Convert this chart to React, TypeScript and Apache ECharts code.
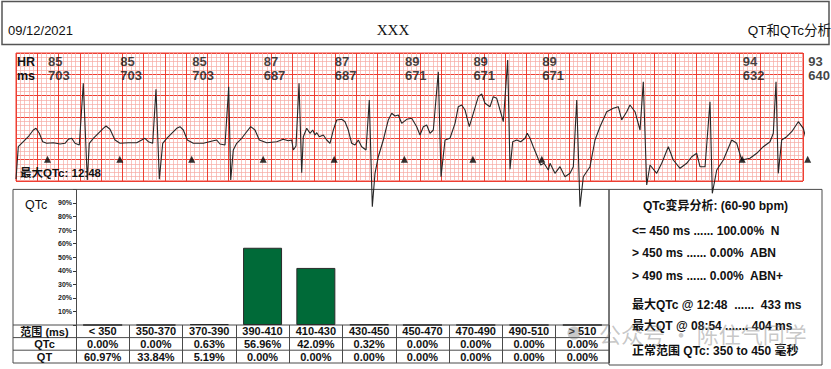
import React, { useEffect, useRef } from 'react';
import * as echarts from 'echarts';

// ---------- header ----------
const reportDate = '09/12/2021';
const patientName = 'XXX';
const reportTitle = 'QT和QTc分析';

// ---------- ECG strip (units: small boxes, time = mm @25mm/s, amplitude = mm) ----------
const ecgTime = [0, 0.54, 1.72, 2.89, 4.07, 4.70, 5.48, 6.28, 7.22, 8.77, 10.34, 11.52, 12.29, 13.09, 13.87, 14.88, 15.82, 16.76, 17.23, 18.17, 19.35, 20.52, 21.16, 22.10, 23.27, 24.45, 26.40, 28.37, 29.55, 30.32, 31.10, 32.13, 32.91, 33.69, 34.49, 35.43, 36.60, 37.78, 38.55, 39.33, 40.27, 41.68, 44.03, 46.38, 47.18, 47.95, 49.13, 50.00, 50.47, 51.08, 51.88, 53.06, 54.23, 55.17, 56.18, 57.19, 58.93, 61.28, 62.83, 64.01, 64.81, 65.19, 65.82, 66.53, 67.16, 67.54, 68.34, 69.11, 69.75, 70.29, 70.69, 71.30, 72.24, 73.04, 73.81, 74.59, 75.39, 76.56, 77.34, 78.11, 78.91, 79.69, 80.47, 81.26, 82.28, 83.05, 83.76, 84.39, 85.17, 86.34, 87.52, 88.32, 89.09, 89.87, 90.67, 91.84, 93.02, 94.19, 94.97, 95.75, 96.54, 97.32, 98.10, 99.27, 99.91, 100.85, 102.02, 103.20, 103.97, 104.77, 105.55, 106.56, 107.50, 108.68, 109.47, 110.25, 111.42, 112.20, 113.00, 113.78, 114.55, 115.58, 116.13, 116.76, 117.70, 118.64, 119.65, 120.19, 120.83, 121.60, 122.40, 123.34, 124.12, 125.13, 125.53, 126.70, 127.88, 129.05, 130.23, 131.01, 131.81, 132.58, 133.36, 134.93, 136.11, 137.28, 138.86, 140.41, 141.58, 142.38, 143.56, 144.33, 145.51, 146.69, 147.46, 148.26, 149.04, 150.61, 151.79, 153.34, 154.51, 156.09, 157.66, 158.84, 160.01, 160.79, 161.97, 163.14, 163.68, 164.72, 166.27, 168.24, 169.42, 170.59, 172.54, 174.12, 175.67, 177.25, 178.02, 178.66, 179.19, 179.99, 181.17, 182.35, 183.90, 185.07, 185.87, 187.42, 189.40];
const ecgAmp = [0.47, 8.04, 9.21, 10.38, 11.95, 12.35, 11.18, 9.21, 8.84, 8.98, 8.67, 8.84, 9.77, 10.01, 8.84, 8.44, 22.90, 0.23, 8.84, 10.01, 11.18, 12.35, 12.89, 12.12, 9.61, 8.84, 8.98, 8.98, 9.61, 10.01, 9.21, 8.84, 21.49, 0.40, 8.84, 10.01, 11.18, 12.35, 12.73, 11.95, 9.61, 8.84, 8.84, 9.44, 9.61, 8.67, 8.44, 22.10, 0.23, 7.27, 8.84, 10.01, 11.55, 12.73, 11.95, 9.61, 8.98, 9.21, 9.77, 9.44, 9.61, 7.27, 8.20, 22.90, 1.95, 10.38, 12.35, 11.18, 11.95, 10.78, 11.32, 10.38, 10.78, 9.61, 8.84, 11.95, 14.30, 14.46, 13.90, 11.95, 8.84, 8.44, 9.61, 8.04, 7.27, 18.98, -6.02, 1.80, 5.69, 9.61, 14.30, 15.87, 15.23, 15.47, 13.52, 14.46, 14.69, 12.73, 10.78, 12.73, 13.12, 11.18, 11.95, 25.62, 1.01, 9.61, 10.01, 13.52, 17.41, 17.81, 16.64, 12.73, 15.87, 19.76, 20.39, 18.21, 17.41, 19.76, 19.38, 16.64, 13.90, 28.36, 2.74, 9.21, 9.61, 9.21, 10.01, 11.18, 10.01, 8.04, 6.09, 3.75, 4.15, 2.58, 4.15, 1.80, 3.35, 1.01, 1.80, 3.35, 18.98, -6.02, 1.01, 3.35, 9.61, 12.73, 16.24, 17.04, 17.41, 14.30, 16.24, 17.81, 16.24, 11.95, 23.27, -0.94, 3.75, 1.80, 4.15, 8.04, 4.92, 2.98, 4.15, 5.69, 6.49, 3.35, 3.35, 18.58, -2.88, 2.58, 4.92, 9.61, 8.84, 4.92, 5.32, 6.49, 8.04, 9.21, 11.18, 23.27, 1.80, 9.61, 10.38, 11.55, 13.90, 12.35, 9.21, 8.98, 9.37];
const calibTime = [-0.7, -0.7];
const calibAmp = [0.23, 11.25];

const beatMarkTime = [7.4, 24.4, 41.3, 58.1, 74.8, 91.3, 107.4, 123.6, 170.7, 186.1];
const beatMarkAmp = 5.1;
const beatLabelAmp = 26.3;
const heartRates = [85, 85, 85, 87, 87, 89, 89, 89, 94, 93];
const rrIntervals = [703, 703, 703, 687, 687, 671, 671, 671, 632, 640];
const maxQtcNote = '最大QTc: 12:48';

// ---------- histogram / table ----------
const rangeCategories = ['< 350', '350-370', '370-390', '390-410', '410-430', '430-450', '450-470', '470-490', '490-510', '> 510'];
const qtcPercent = [0.0, 0.0, 0.63, 56.96, 42.09, 0.32, 0.0, 0.0, 0.0, 0.0];
const qtPercent = [60.97, 33.84, 5.19, 0.0, 0.0, 0.0, 0.0, 0.0, 0.0, 0.0];
const rowHeaders = ['范围 (ms)', 'QTc', 'QT'];

// ---------- summary panel ----------
const summaryTitle = 'QTc变异分析: (60-90 bpm)';
const summaryLines = ['<= 450 ms ...... 100.00%  N', '> 450 ms ...... 0.00%  ABN', '> 490 ms ...... 0.00%  ABN+'];
const extremeLines = ['最大QTc @ 12:48  ......  433 ms', '最大QT @ 08:54 ....... 404 ms'];
const normalRange = '正常范围 QTc: 350 to 450 毫秒';
const watermarkText = '公众号 · 陈住气同学';

const SANS = "'Liberation Sans', Arial, 'Noto Sans CJK SC', sans-serif";
const SERIF = "'Liberation Serif', 'Times New Roman', serif";
const MAJOR = '#ee3f33';
const MINOR = '#f7aaa4';
const LINE = '#4a4a4a';
const GREEN = '#006a38';

const pct = (v: number) => v.toFixed(2) + '%';

export default function App() {
  const ref = useRef<HTMLDivElement>(null);
  useEffect(() => {
    if (!ref.current) return;
    const chart = echarts.init(ref.current, undefined, { renderer: 'svg' });
    const n = Math.min(ecgTime.length, ecgAmp.length);
    const ecgData = [] as number[][];
    for (let i = 0; i < n; i++) ecgData.push([ecgTime[i], ecgAmp[i]]);

    const txt = (x: number, y: number, text: string, size: number, opts: any = {}) => ({
      type: 'text',
      x,
      y,
      z: opts.z || 10,
      style: {
        text,
        fontSize: size,
        fontFamily: opts.family || SANS,
        fontWeight: opts.weight || 'normal',
        fill: opts.fill || '#111',
        align: opts.align || 'left',
        verticalAlign: 'middle',
      },
    });
    const hline = (x1: number, x2: number, y: number) => ({
      type: 'line',
      z: 1,
      shape: { x1, y1: y, x2, y2: y },
      style: { stroke: LINE, lineWidth: 1 },
    });

    const option: any = {
      animation: false,
      backgroundColor: '#fff',
      grid: [
        { left: 16, top: 53, width: 787, height: 128, show: true, backgroundColor: '#fff', borderColor: MAJOR, borderWidth: 1 },
        { left: 76, top: 189.4, width: 533, height: 135.6, show: false },
      ],
      xAxis: [
        {
          gridIndex: 0, type: 'value', min: 0, max: 185, interval: 5,
          axisLine: { show: false }, axisTick: { show: false }, axisLabel: { show: false },
          splitLine: { show: true, lineStyle: { color: MAJOR, width: 1 } },
          minorTick: { show: false, splitNumber: 5 },
          minorSplitLine: { show: true, lineStyle: { color: MINOR, width: 0.7 } },
        },
        {
          gridIndex: 1, type: 'category', data: rangeCategories, boundaryGap: true,
          axisLine: { show: false },
          axisTick: { show: true, inside: false, length: 38, interval: 0, lineStyle: { color: LINE, width: 1 } },
          axisLabel: {
            interval: 0, margin: 0, verticalAlign: 'top',
            formatter: (v: string, i: number) => `{h|${v}}\n{v|${pct(qtcPercent[i])}}\n{v|${pct(qtPercent[i])}}`,
            rich: {
              h: { fontSize: 11, fontWeight: 'bold', lineHeight: 12.6, color: '#111', fontFamily: SANS },
              v: { fontSize: 11, fontWeight: 'bold', lineHeight: 12.6, color: '#111', fontFamily: SANS },
            },
          },
          splitLine: { show: false },
        },
      ],
      yAxis: [
        {
          gridIndex: 0, type: 'value', min: 0, max: 30, interval: 5,
          axisLine: { show: false }, axisTick: { show: false }, axisLabel: { show: false },
          splitLine: { show: true, lineStyle: { color: MAJOR, width: 1 } },
          minorTick: { show: false, splitNumber: 5 },
          minorSplitLine: { show: true, lineStyle: { color: MINOR, width: 0.7 } },
        },
        {
          gridIndex: 1, type: 'value', min: 0, max: 100, interval: 10,
          axisLine: { show: true, lineStyle: { color: LINE, width: 1 } },
          axisTick: { show: true, length: 3, lineStyle: { color: '#333', width: 1 } },
          axisLabel: {
            fontSize: 7, fontWeight: 'bold', color: '#222', margin: 4, fontFamily: SANS,
            padding: [0, 0, 4, 0],
            formatter: (v: number) => (v > 0 && v < 100 ? v + '%' : ''),
          },
          splitLine: { show: false },
        },
      ],
      series: [
        {
          type: 'bar', xAxisIndex: 1, yAxisIndex: 1, data: qtcPercent, barWidth: 39, silent: true,
          itemStyle: { color: GREEN, borderColor: '#2b2b2b', borderWidth: 1 },
        },
        {
          type: 'line', xAxisIndex: 0, yAxisIndex: 0, data: ecgData, symbol: 'none', clip: false, z: 6, silent: true,
          lineStyle: { color: '#262626', width: 1.1 },
        },
        {
          type: 'line', xAxisIndex: 0, yAxisIndex: 0, data: [[calibTime[0], calibAmp[0]], [calibTime[1], calibAmp[1]]],
          symbol: 'none', clip: false, z: 6, silent: true, lineStyle: { color: '#777', width: 1.2 },
        },
        {
          type: 'scatter', xAxisIndex: 0, yAxisIndex: 0, symbol: 'triangle', symbolSize: 7, clip: false, z: 7, silent: true,
          data: beatMarkTime.map((t) => [t, beatMarkAmp]),
          itemStyle: { color: '#000' },
        },
        {
          type: 'scatter', xAxisIndex: 0, yAxisIndex: 0, symbolSize: 1, clip: false, z: 7, silent: true,
          data: beatMarkTime.map((t, i) => [t, beatLabelAmp, heartRates[i], rrIntervals[i]]),
          itemStyle: { color: 'rgba(0,0,0,0)' },
          label: {
            show: true, position: 'right', distance: 0,
            formatter: (p: any) => `${p.data[2]}\n${p.data[3]}`,
            fontSize: 13, fontWeight: 'bold', lineHeight: 14.3, color: '#111', fontFamily: SANS,
          },
        },
      ],
      graphic: [
        { type: 'rect', z: 1, shape: { x: 2, y: 1.5, width: 827, height: 43 }, style: { fill: 'none', stroke: '#555', lineWidth: 1.5 } },
        txt(8, 30, reportDate, 13),
        txt(393, 30, patientName, 15, { family: SERIF, align: 'center' }),
        txt(831, 30, reportTitle, 13.5, { align: 'right' }),
        txt(17, 62, 'HR', 12.5, { weight: 'bold' }),
        txt(17, 76, 'ms', 12.5, { weight: 'bold' }),
        txt(20, 173, maxQtcNote, 11.5, { weight: 'bold' }),
        { type: 'rect', z: 1, shape: { x: 13, y: 189.4, width: 596, height: 173.6 }, style: { fill: 'none', stroke: LINE, lineWidth: 1 } },
        { type: 'rect', z: 1, shape: { x: 609, y: 189.4, width: 213, height: 175.6 }, style: { fill: 'none', stroke: LINE, lineWidth: 1 } },
        hline(13, 609, 325),
        hline(13, 609, 337.6),
        hline(13, 609, 350.2),
        txt(44.5, 331.5, rowHeaders[0], 11, { weight: 'bold', align: 'center' }),
        txt(44.5, 344, rowHeaders[1], 11, { weight: 'bold', align: 'center' }),
        txt(44.5, 356.6, rowHeaders[2], 11, { weight: 'bold', align: 'center' }),
        txt(25, 205, 'QTc', 12.5),
        txt(715.5, 206, summaryTitle, 12, { weight: 'bold', align: 'center' }),
        txt(632, 231, summaryLines[0], 12, { weight: 'bold' }),
        txt(632, 253, summaryLines[1], 12, { weight: 'bold' }),
        txt(632, 276, summaryLines[2], 12, { weight: 'bold' }),
        txt(632, 305, extremeLines[0], 12, { weight: 'bold' }),
        txt(632, 326, extremeLines[1], 12, { weight: 'bold' }),
        txt(632, 351, normalRange, 12, { weight: 'bold' }),
        { type: 'circle', z: 20, shape: { cx: 574, cy: 333, r: 6.5 }, style: { fill: 'rgba(120,120,120,0.4)' } },
        txt(599, 333, watermarkText, 22, { fill: 'rgba(120,120,120,0.42)', family: "'Noto Sans CJK SC', sans-serif", z: 20 }),
      ],
    };
    chart.setOption(option);
    return () => chart.dispose();
  }, []);
  return <div ref={ref} style={{ position: 'absolute', left: 0, top: 0, width: 831, height: 369, background: '#fff' }} />;
}
